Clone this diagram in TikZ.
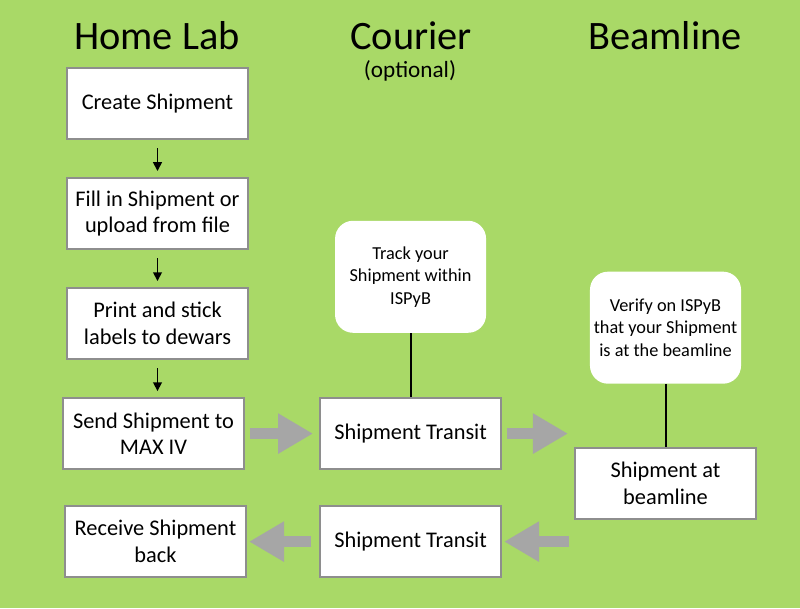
\documentclass[tikz,border=0pt]{standalone}
\usepackage{fontspec}
\setmainfont{Carlito}
\usetikzlibrary{arrows.meta,positioning}
\definecolor{lawn}{HTML}{A9D967}
\definecolor{rim}{HTML}{8E8E8E}
\definecolor{slate}{HTML}{A6A6A6}
\tikzset{step box/.style={draw=rim,line width=0.05cm,fill=white,align=center,font=\fontsize{15.9}{19}\selectfont,minimum width=4.525cm,minimum height=1.775cm,inner sep=1pt},note/.style={fill=white,rounded corners=0.45cm,align=center,font=\fontsize{13}{16}\selectfont,minimum width=3.775cm,minimum height=2.8cm,inner sep=1pt},head/.style={font=\fontsize{28.7}{32}\selectfont},down/.style={-{Triangle[length=2.2mm,width=2.2mm]},line width=0.04cm,shorten <=0.2cm,shorten >=0.15cm},fat/.style={-{Triangle[length=0.875cm,width=0.95cm]},line width=0.28cm,draw=slate,shorten <=0.12cm,shorten >=0.15cm},tie/.style={line width=0.05cm}}
\begin{document}
\begin{tikzpicture}[x=0.025cm,y=-0.025cm,node distance=0.925cm and 1.85cm]
\fill[lawn](0,0)rectangle(800,608);\useasboundingbox(0,0)rectangle(800,608);
\node[head](hl)at(157,36){Home Lab};\node[head](cr)at(411,36){Courier};\node[head](bl)at(665,36){Beamline};
\node[font=\fontsize{16.5}{19}\selectfont](opt)at(410,71){(optional)};
\node[step box](create)at(157.5,103.5){Create Shipment};\node[step box,below=of create](fill){Fill in Shipment or\\upload from file};
\node[step box,below=of fill](print){Print and stick\\labels to dewars};\node[step box,below=of print,xshift=-0.1cm](send){Send Shipment to\\MAX IV};
\node[step box,right=of send](out){Shipment Transit};\node[step box](arrive)at(665.5,483.5){Shipment at\\beamline};
\node[step box,below=0.875cm of out](back){Shipment Transit};\node[step box,left=1.8cm of back](recv){Receive Shipment\\back};
\node[note,above=1.6cm of out](track){Track your\\Shipment within\\ISPyB};\node[note,above=1.575cm of arrive](verify){Verify on ISPyB\\that your Shipment\\is at the beamline};
\draw[down](create)--(fill);\draw[down](fill)--(print);\draw[down](print)--(print|-send.north);
\draw[fat](send)--(out);\draw[fat](out.east)--(out.east-|arrive.west);
\draw[fat,shorten >=0.05cm](back.east-|arrive.west)--(back);\draw[fat,shorten <=0.2cm,shorten >=0.05cm](back)--(recv);
\draw[tie](track)--(out);\draw[tie](verify)--(arrive);
\end{tikzpicture}
\end{document}
